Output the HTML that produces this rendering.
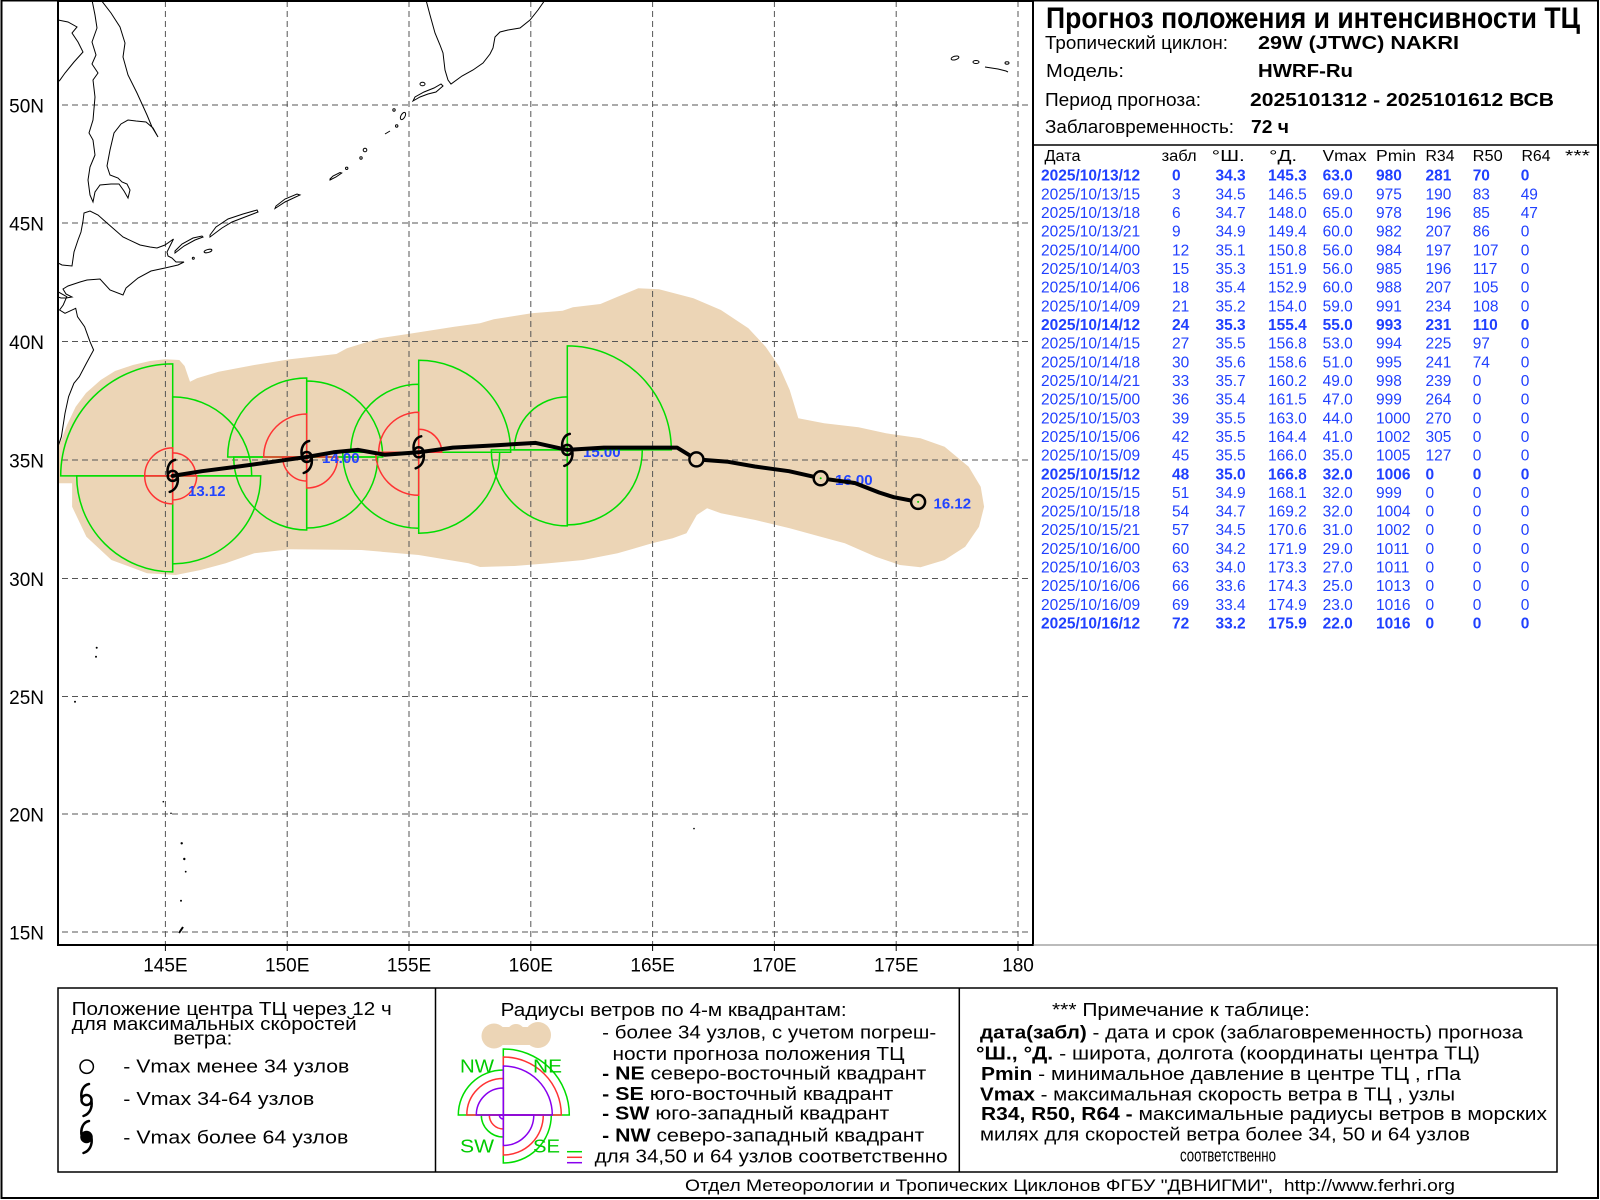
<!DOCTYPE html>
<html><head><meta charset="utf-8"><style>
html,body{margin:0;padding:0;background:#fff}
svg{display:block}
text{font-family:"Liberation Sans",Arial,sans-serif}
</style></head><body>
<svg width="1600" height="1200" viewBox="0 0 1600 1200" xmlns="http://www.w3.org/2000/svg">
<defs>
<clipPath id="mc"><rect x="58" y="1" width="975" height="944"/></clipPath>
<g id="ts"><path d="M2.5,-16 C-3,-15 -6,-9 -5,-2 M5,1 C6,8 3,14 -3,16" fill="none" stroke="#000" stroke-width="2.5" stroke-linecap="round"/><circle r="5" fill="none" stroke="#000" stroke-width="2.5"/></g>
<g id="tsf"><path d="M2.5,-16 C-3,-15 -6,-9 -5,-2 M5,1 C6,8 3,14 -3,16" fill="none" stroke="#000" stroke-width="2.5" stroke-linecap="round"/><circle r="5.5" fill="#000" stroke="#000" stroke-width="1.5"/></g>
</defs>
<rect width="1600" height="1200" fill="#fff"/>

<!-- MAP -->
<g clip-path="url(#mc)">
<path fill="#ecd5b6" d="M50,470 L57,445 L61.4,440 L67,425 L75.7,406.7 L86,393 L100.7,380 L115,371 L132.9,365 L150,361 L165,359.3 L179.3,360 L184.6,366 L188,376 L190,381.7 L197,378.3 L218.6,371.7 L254.3,365 L290,359.3 L336.4,354 L347,348.3 L379.3,338.3 L407.9,334 L454.3,326.7 L480,323.3 L493.8,319.3 L531.6,313.3 L562.6,310.7 L572.9,307.3 L600.4,304 L617.6,296.7 L638.3,288.3 L659,289.3 L693.4,298.3 L720.9,310 L748.4,328.3 L765.6,346.7 L779.4,366.7 L789.7,390 L798.3,418.3 L824.1,423.3 L858.5,427.3 L886,433.3 L920.5,438.3 L944.6,446.7 L968.7,466.7 L980.7,486.7 L984.1,506.7 L979,526.7 L965.2,546.7 L944.6,560 L920.5,567.3 L899.8,565 L875.7,556.7 L844.8,543.3 L820.7,536.7 L789.7,528.3 L755.3,520 L720.9,513.3 L707.1,508.3 L696.8,515 L686.5,533.3 L672.7,538.3 L652.1,543.3 L617.6,553.3 L583.2,560 L548.8,563.3 L514.4,566 L480,567 L468.6,563.3 L418.6,555 L361.4,550 L290,549.3 L254.3,553.3 L225.7,563.3 L200.7,570 L175.7,575 L147.1,573.3 L111.4,560 L86.4,536.7 L72.1,506.7 L72.1,483.3 L57.9,483.3 L50,483 Z"/>

<!-- grid -->
<g stroke="#555" stroke-width="1" stroke-dasharray="6,4" fill="none">
<line x1="165.4" y1="1" x2="165.4" y2="945"/>
<line x1="287.2" y1="1" x2="287.2" y2="945"/>
<line x1="409" y1="1" x2="409" y2="945"/>
<line x1="530.8" y1="1" x2="530.8" y2="945"/>
<line x1="652.6" y1="1" x2="652.6" y2="945"/>
<line x1="774.4" y1="1" x2="774.4" y2="945"/>
<line x1="896.2" y1="1" x2="896.2" y2="945"/>
<line x1="1018" y1="1" x2="1018" y2="945"/>
<line x1="52" y1="105" x2="1033" y2="105"/>
<line x1="52" y1="223" x2="1033" y2="223"/>
<line x1="52" y1="341.5" x2="1033" y2="341.5"/>
<line x1="52" y1="460" x2="1033" y2="460"/>
<line x1="52" y1="578.5" x2="1033" y2="578.5"/>
<line x1="52" y1="696.5" x2="1033" y2="696.5"/>
<line x1="52" y1="814" x2="1033" y2="814"/>
<line x1="52" y1="932" x2="1033" y2="932"/>
</g>

<!-- coastlines -->
<g fill="none" stroke="#000" stroke-width="1">
<path d="M58,263 L62,265 L72,266 L74,252 L78,240 L81,232 L83,221 L84,213 L90,211 L98,215 L107,223 L123,237 L140,245 L150,247 L157,248 L165,245 L173.5,239 L170,246 L167,252 L168,256 L172,258 L176,262 L184,262 L178,265 L165,268 L151,271 L138,278 L126,288 L123,295 L110,290 L100,279 L87,280 L80,282 L68,286 L63,289 L66,294 L72,297 L66,298 L61,298 L58,297"/>
<path d="M101,0 L111,13 L120,27 L125,43 L123,57 L128,75 L137,93 L147,115 L152,127 L158,137 L153,128 L146,122 L136,121 L128,120 L121,124 L114,133 L110,150 L107,166 L110,175 L118,178 L122,182 L127,184 L130,190 L128,198 L124,191 L119,184 L111,184 L100,185 L95,192 L93,202 L90,195 L88,180 L90,167 L95,155 L93,140 L89,133 L93,120 L95,97 L93,80 L98,73 L92,64 L96,55 L92,42 L97,28 L95,15 L92,0"/>
<path d="M58,20 L68,22 L77,27 L72,33 L78,42 L83,52 L74,62 L65,73 L60,80 L58,82"/>
<path d="M57.9,291.7 L66.8,296.7 L63.2,305 L59.6,310 L65,313.3 L75.7,308.3 L77.5,316.7 L84.6,326.7 L90,341.7 L93.6,350 L86.4,363.3 L79.3,376.7 L73.9,383.3 L68.6,396.7 L65,413.3 L61.4,436.7 L57.9,446.7"/>
<path d="M426,0 L430,15 L435,33 L440,45 L443,53 L445,70 L448,80 L451,84 L462,76 L473,70 L483,63 L490,54 L493,48 L495,37 L500,32 L508,30 L520,28 L530,20 L538,10 L545,0"/>
<path d="M413,101 L420,97 L428,94 L436,92 L443,86 L441,84 L434,88 L424,92 L415,97 Z"/>
<ellipse cx="422.5" cy="84" rx="2.5" ry="1.8"/>
<ellipse cx="403" cy="116" rx="2" ry="4" transform="rotate(30 403 116)"/>
<circle cx="394" cy="110" r="1.2"/>
<circle cx="396.7" cy="126" r="1.2"/>
<path d="M385,134 L390,131"/>
<circle cx="365" cy="150" r="1.8"/>
<circle cx="361" cy="158" r="1.2"/>
<circle cx="346.7" cy="168.3" r="1.2"/>
<path d="M330,180 L336,177 L341.7,173 L340,172.5 L333,176 L330,179 Z"/>
<path d="M275,208.5 L285,202 L300,195 L297,194 L285,199 L276,206 Z"/>
<path d="M210,237 L222,228 L232,222 L245,217 L258,212 L257,210 L243,214 L228,219 L216,227 L210,235 Z"/>
<path d="M175,253 L184,246 L195,240 L203,237 L202,236 L193,238 L182,244 L175,251 Z"/>
<ellipse cx="208" cy="251" rx="4" ry="1.5" transform="rotate(-15 208 251)"/>
<circle cx="193.3" cy="258.3" r="1"/>
<ellipse cx="955" cy="58" rx="4" ry="1.8" transform="rotate(-15 955 58)"/>
<ellipse cx="976" cy="62" rx="3" ry="1.5"/>
<path d="M985,67 L998,69 L1006,71 L1008,72"/>
<ellipse cx="1007" cy="63" rx="2" ry="1.2"/>
</g>
<g fill="#000">
<circle cx="96.7" cy="647.7" r="1"/><circle cx="96" cy="656.7" r="1"/><circle cx="75" cy="701.7" r="1"/>
<circle cx="163.3" cy="801.7" r="0.8"/><circle cx="171" cy="813.3" r="0.8"/>
<circle cx="181.7" cy="843.3" r="1.2"/><circle cx="184.3" cy="859" r="1.2"/><circle cx="185.7" cy="871.7" r="0.9"/><circle cx="181" cy="900.7" r="1"/>
<circle cx="694" cy="828.6" r="0.8"/>
</g>
<path d="M179,933 L183,927" stroke="#000" stroke-width="2" fill="none"/>

<!-- wind radii: green R34 -->
<g fill="none" stroke="#00dd00" stroke-width="1.5">
<path d="M172.7,475.9 L172.7,396.9 A79,79 0 0 1 251.7,475.9 Z"/>
<path d="M172.7,475.9 L260.7,475.9 A88,88 0 0 1 172.7,563.9 Z"/>
<path d="M172.7,475.9 L172.7,571.9 A96,96 0 0 1 76.7,475.9 Z"/>
<path d="M172.7,475.9 L60.7,475.9 A112,112 0 0 1 172.7,363.9 Z"/>
<path d="M306.7,457 L306.7,381 A76,76 0 0 1 382.7,457 Z"/>
<path d="M306.7,457 L377.7,457 A71,71 0 0 1 306.7,528 Z"/>
<path d="M306.7,457 L306.7,530 A73,73 0 0 1 233.7,457 Z"/>
<path d="M306.7,457 L227.7,457 A79,79 0 0 1 306.7,378 Z"/>
<path d="M418.7,452.3 L418.7,360.3 A92,92 0 0 1 510.7,452.3 Z"/>
<path d="M418.7,452.3 L499.7,452.3 A81,81 0 0 1 418.7,533.3 Z"/>
<path d="M418.7,452.3 L418.7,528.3 A76,76 0 0 1 342.7,452.3 Z"/>
<path d="M418.7,452.3 L350.7,452.3 A68,68 0 0 1 418.7,384.3 Z"/>
<path d="M567.3,449.9 L567.3,345.9 A104,104 0 0 1 671.3,449.9 Z"/>
<path d="M567.3,449.9 L642.3,449.9 A75,75 0 0 1 567.3,524.9 Z"/>
<path d="M567.3,449.9 L567.3,525.9 A76,76 0 0 1 491.3,449.9 Z"/>
<path d="M567.3,449.9 L514.3,449.9 A53,53 0 0 1 567.3,396.9 Z"/>
</g>
<!-- red R50 -->
<g fill="none" stroke="#ff3333" stroke-width="1.5">
<path d="M172.7,475.9 L172.7,452.9 A23,23 0 0 1 195.7,475.9 Z"/>
<path d="M172.7,475.9 L196.7,475.9 A24,24 0 0 1 172.7,499.9 Z"/>
<path d="M172.7,475.9 L172.7,503.9 A28,28 0 0 1 144.7,475.9 Z"/>
<path d="M172.7,475.9 L144.7,475.9 A28,28 0 0 1 172.7,447.9 Z"/>
<path d="M306.7,457 L337.7,457 A31,31 0 0 1 306.7,488 Z"/>
<path d="M306.7,457 L306.7,481 A24,24 0 0 1 282.7,457 Z"/>
<path d="M306.7,457 L263.7,457 A43,43 0 0 1 306.7,414 Z"/>
<path d="M418.7,452.3 L418.7,429.3 A23,23 0 0 1 441.7,452.3 Z"/>
<path d="M418.7,452.3 L418.7,495.3 A43,43 0 0 1 375.7,452.3 Z"/>
<path d="M418.7,452.3 L378.7,452.3 A40,40 0 0 1 418.7,412.3 Z"/>
</g>

<!-- labels -->
<g font-size="15" font-weight="bold" fill="#2244ff">
<text x="188" y="496">13.12</text>
<text x="322" y="463">14.00</text>
<text x="583" y="457">15.00</text>
<text x="835" y="485">16.00</text>
<text x="933.5" y="508.5">16.12</text>
</g>

<!-- track -->
<polyline fill="none" stroke="#000" stroke-width="4" stroke-linejoin="round" stroke-linecap="round" points="172.7,475.9 201.9,471.2 238.5,466.5 272.6,461.8 306.7,457 333.5,452.3 357.8,449.9 384.6,454.7 418.7,452.3 452.9,447.6 496.7,445.2 535.7,442.9 567.3,449.9 603.9,447.6 638,447.6 677,447.6 696.4,459.4 728.1,461.8 754.9,466.5 789,471.2 820.7,478.3 854.8,483 879.1,492.5 893.8,497.2 918.1,501.9"/>
<use href="#ts" x="172.7" y="475.9"/>
<use href="#ts" x="306.7" y="457"/>
<use href="#ts" x="418.7" y="452.3"/>
<use href="#ts" x="567.3" y="449.9"/>
<g fill="#ecd5b6" stroke="#000" stroke-width="2.5">
<circle cx="696.4" cy="459.4" r="7"/>
<circle cx="820.7" cy="478.3" r="7"/>
<circle cx="918.1" cy="501.9" r="7"/>
</g>
<circle cx="820.7" cy="478.3" r="1" fill="#00cc00"/>
<circle cx="918.1" cy="501.9" r="1" fill="#00cc00"/>
</g>

<!-- map frame & ticks -->
<rect x="58" y="1" width="975" height="944" fill="none" stroke="#000" stroke-width="2"/>
<g stroke="#000" stroke-width="1">
<line x1="165.4" y1="945" x2="165.4" y2="951"/><line x1="287.2" y1="945" x2="287.2" y2="951"/><line x1="409" y1="945" x2="409" y2="951"/><line x1="530.8" y1="945" x2="530.8" y2="951"/><line x1="652.6" y1="945" x2="652.6" y2="951"/><line x1="774.4" y1="945" x2="774.4" y2="951"/><line x1="896.2" y1="945" x2="896.2" y2="951"/><line x1="1018" y1="945" x2="1018" y2="951"/>
</g>
<g font-size="19" fill="#000" text-anchor="end">
<text x="44" y="112.5">50N</text><text x="44" y="230.5">45N</text><text x="44" y="349">40N</text><text x="44" y="467.5">35N</text><text x="44" y="586">30N</text><text x="44" y="704">25N</text><text x="44" y="821.5">20N</text><text x="44" y="939.5">15N</text>
</g>
<g font-size="19" fill="#000" text-anchor="middle">
<text x="165.4" y="971.5">145E</text><text x="287.2" y="971.5">150E</text><text x="409" y="971.5">155E</text><text x="530.8" y="971.5">160E</text><text x="652.6" y="971.5">165E</text><text x="774.4" y="971.5">170E</text><text x="896.2" y="971.5">175E</text><text x="1018" y="971.5">180</text>
</g>

<!-- right panel -->
<line x1="1033" y1="145" x2="1598" y2="145" stroke="#000" stroke-width="1.5"/>
<line x1="1033" y1="945" x2="1598" y2="945" stroke="#777" stroke-width="1"/>
<text x="1046" y="28" font-size="30" font-weight="bold" textLength="534" lengthAdjust="spacingAndGlyphs">Прогноз положения и интенсивности ТЦ</text>
<g font-size="18" fill="#000" xml:space="preserve" style="white-space:pre">
<text x="1045" y="49" textLength="183" lengthAdjust="spacingAndGlyphs">Тропический циклон:</text>
<text x="1258" y="49" font-weight="bold" textLength="201" lengthAdjust="spacingAndGlyphs">29W (JTWC)  NAKRI</text>
<text x="1046" y="77" textLength="78" lengthAdjust="spacingAndGlyphs">Модель:</text>
<text x="1258" y="77" font-weight="bold" textLength="95" lengthAdjust="spacingAndGlyphs">HWRF-Ru</text>
<text x="1045" y="106" textLength="156" lengthAdjust="spacingAndGlyphs">Период прогноза:</text>
<text x="1250" y="106" font-weight="bold" textLength="304" lengthAdjust="spacingAndGlyphs">2025101312 - 2025101612 ВСВ</text>
<text x="1045" y="133" textLength="189" lengthAdjust="spacingAndGlyphs">Заблаговременность:</text>
<text x="1251" y="133" font-weight="bold" textLength="38" lengthAdjust="spacingAndGlyphs">72 ч</text>
</g>
<g font-size="15.5" fill="#000">
<text x="1044.5" y="161" textLength="36" lengthAdjust="spacingAndGlyphs">Дата</text>
<text x="1161.6" y="161" textLength="35" lengthAdjust="spacingAndGlyphs">забл</text>
<text x="1211.8" y="161" textLength="33" lengthAdjust="spacingAndGlyphs">°Ш.</text>
<text x="1269.2" y="161" textLength="28" lengthAdjust="spacingAndGlyphs">°Д.</text>
<text x="1322.6" y="161" textLength="44" lengthAdjust="spacingAndGlyphs">Vmax</text>
<text x="1376" y="161" textLength="40" lengthAdjust="spacingAndGlyphs">Pmin</text>
<text x="1425.5" y="161" textLength="29" lengthAdjust="spacingAndGlyphs">R34</text>
<text x="1472.7" y="161" textLength="30" lengthAdjust="spacingAndGlyphs">R50</text>
<text x="1521.5" y="161" textLength="29" lengthAdjust="spacingAndGlyphs">R64</text>
<text x="1565" y="161" textLength="25" lengthAdjust="spacingAndGlyphs">***</text>
</g>
<g font-size="15.5" fill="#2040ff">
<text y="180.7" font-weight="bold"><tspan x="1041">2025/10/13/12</tspan><tspan x="1172">0</tspan><tspan x="1215.5">34.3</tspan><tspan x="1268">145.3</tspan><tspan x="1322.6">63.0</tspan><tspan x="1376">980</tspan><tspan x="1425.5">281</tspan><tspan x="1472.7">70</tspan><tspan x="1520.7">0</tspan></text>
<text y="199.4"><tspan x="1041">2025/10/13/15</tspan><tspan x="1172">3</tspan><tspan x="1215.5">34.5</tspan><tspan x="1268">146.5</tspan><tspan x="1322.6">69.0</tspan><tspan x="1376">975</tspan><tspan x="1425.5">190</tspan><tspan x="1472.7">83</tspan><tspan x="1520.7">49</tspan></text>
<text y="218"><tspan x="1041">2025/10/13/18</tspan><tspan x="1172">6</tspan><tspan x="1215.5">34.7</tspan><tspan x="1268">148.0</tspan><tspan x="1322.6">65.0</tspan><tspan x="1376">978</tspan><tspan x="1425.5">196</tspan><tspan x="1472.7">85</tspan><tspan x="1520.7">47</tspan></text>
<text y="236.7"><tspan x="1041">2025/10/13/21</tspan><tspan x="1172">9</tspan><tspan x="1215.5">34.9</tspan><tspan x="1268">149.4</tspan><tspan x="1322.6">60.0</tspan><tspan x="1376">982</tspan><tspan x="1425.5">207</tspan><tspan x="1472.7">86</tspan><tspan x="1520.7">0</tspan></text>
<text y="255.3"><tspan x="1041">2025/10/14/00</tspan><tspan x="1172">12</tspan><tspan x="1215.5">35.1</tspan><tspan x="1268">150.8</tspan><tspan x="1322.6">56.0</tspan><tspan x="1376">984</tspan><tspan x="1425.5">197</tspan><tspan x="1472.7">107</tspan><tspan x="1520.7">0</tspan></text>
<text y="274"><tspan x="1041">2025/10/14/03</tspan><tspan x="1172">15</tspan><tspan x="1215.5">35.3</tspan><tspan x="1268">151.9</tspan><tspan x="1322.6">56.0</tspan><tspan x="1376">985</tspan><tspan x="1425.5">196</tspan><tspan x="1472.7">117</tspan><tspan x="1520.7">0</tspan></text>
<text y="292.7"><tspan x="1041">2025/10/14/06</tspan><tspan x="1172">18</tspan><tspan x="1215.5">35.4</tspan><tspan x="1268">152.9</tspan><tspan x="1322.6">60.0</tspan><tspan x="1376">988</tspan><tspan x="1425.5">207</tspan><tspan x="1472.7">105</tspan><tspan x="1520.7">0</tspan></text>
<text y="311.3"><tspan x="1041">2025/10/14/09</tspan><tspan x="1172">21</tspan><tspan x="1215.5">35.2</tspan><tspan x="1268">154.0</tspan><tspan x="1322.6">59.0</tspan><tspan x="1376">991</tspan><tspan x="1425.5">234</tspan><tspan x="1472.7">108</tspan><tspan x="1520.7">0</tspan></text>
<text y="330" font-weight="bold"><tspan x="1041">2025/10/14/12</tspan><tspan x="1172">24</tspan><tspan x="1215.5">35.3</tspan><tspan x="1268">155.4</tspan><tspan x="1322.6">55.0</tspan><tspan x="1376">993</tspan><tspan x="1425.5">231</tspan><tspan x="1472.7">110</tspan><tspan x="1520.7">0</tspan></text>
<text y="348.6"><tspan x="1041">2025/10/14/15</tspan><tspan x="1172">27</tspan><tspan x="1215.5">35.5</tspan><tspan x="1268">156.8</tspan><tspan x="1322.6">53.0</tspan><tspan x="1376">994</tspan><tspan x="1425.5">225</tspan><tspan x="1472.7">97</tspan><tspan x="1520.7">0</tspan></text>
<text y="367.3"><tspan x="1041">2025/10/14/18</tspan><tspan x="1172">30</tspan><tspan x="1215.5">35.6</tspan><tspan x="1268">158.6</tspan><tspan x="1322.6">51.0</tspan><tspan x="1376">995</tspan><tspan x="1425.5">241</tspan><tspan x="1472.7">74</tspan><tspan x="1520.7">0</tspan></text>
<text y="386"><tspan x="1041">2025/10/14/21</tspan><tspan x="1172">33</tspan><tspan x="1215.5">35.7</tspan><tspan x="1268">160.2</tspan><tspan x="1322.6">49.0</tspan><tspan x="1376">998</tspan><tspan x="1425.5">239</tspan><tspan x="1472.7">0</tspan><tspan x="1520.7">0</tspan></text>
<text y="404.6"><tspan x="1041">2025/10/15/00</tspan><tspan x="1172">36</tspan><tspan x="1215.5">35.4</tspan><tspan x="1268">161.5</tspan><tspan x="1322.6">47.0</tspan><tspan x="1376">999</tspan><tspan x="1425.5">264</tspan><tspan x="1472.7">0</tspan><tspan x="1520.7">0</tspan></text>
<text y="423.3"><tspan x="1041">2025/10/15/03</tspan><tspan x="1172">39</tspan><tspan x="1215.5">35.5</tspan><tspan x="1268">163.0</tspan><tspan x="1322.6">44.0</tspan><tspan x="1376">1000</tspan><tspan x="1425.5">270</tspan><tspan x="1472.7">0</tspan><tspan x="1520.7">0</tspan></text>
<text y="441.9"><tspan x="1041">2025/10/15/06</tspan><tspan x="1172">42</tspan><tspan x="1215.5">35.5</tspan><tspan x="1268">164.4</tspan><tspan x="1322.6">41.0</tspan><tspan x="1376">1002</tspan><tspan x="1425.5">305</tspan><tspan x="1472.7">0</tspan><tspan x="1520.7">0</tspan></text>
<text y="460.6"><tspan x="1041">2025/10/15/09</tspan><tspan x="1172">45</tspan><tspan x="1215.5">35.5</tspan><tspan x="1268">166.0</tspan><tspan x="1322.6">35.0</tspan><tspan x="1376">1005</tspan><tspan x="1425.5">127</tspan><tspan x="1472.7">0</tspan><tspan x="1520.7">0</tspan></text>
<text y="479.3" font-weight="bold"><tspan x="1041">2025/10/15/12</tspan><tspan x="1172">48</tspan><tspan x="1215.5">35.0</tspan><tspan x="1268">166.8</tspan><tspan x="1322.6">32.0</tspan><tspan x="1376">1006</tspan><tspan x="1425.5">0</tspan><tspan x="1472.7">0</tspan><tspan x="1520.7">0</tspan></text>
<text y="497.9"><tspan x="1041">2025/10/15/15</tspan><tspan x="1172">51</tspan><tspan x="1215.5">34.9</tspan><tspan x="1268">168.1</tspan><tspan x="1322.6">32.0</tspan><tspan x="1376">999</tspan><tspan x="1425.5">0</tspan><tspan x="1472.7">0</tspan><tspan x="1520.7">0</tspan></text>
<text y="516.6"><tspan x="1041">2025/10/15/18</tspan><tspan x="1172">54</tspan><tspan x="1215.5">34.7</tspan><tspan x="1268">169.2</tspan><tspan x="1322.6">32.0</tspan><tspan x="1376">1004</tspan><tspan x="1425.5">0</tspan><tspan x="1472.7">0</tspan><tspan x="1520.7">0</tspan></text>
<text y="535.2"><tspan x="1041">2025/10/15/21</tspan><tspan x="1172">57</tspan><tspan x="1215.5">34.5</tspan><tspan x="1268">170.6</tspan><tspan x="1322.6">31.0</tspan><tspan x="1376">1002</tspan><tspan x="1425.5">0</tspan><tspan x="1472.7">0</tspan><tspan x="1520.7">0</tspan></text>
<text y="553.9"><tspan x="1041">2025/10/16/00</tspan><tspan x="1172">60</tspan><tspan x="1215.5">34.2</tspan><tspan x="1268">171.9</tspan><tspan x="1322.6">29.0</tspan><tspan x="1376">1011</tspan><tspan x="1425.5">0</tspan><tspan x="1472.7">0</tspan><tspan x="1520.7">0</tspan></text>
<text y="572.6"><tspan x="1041">2025/10/16/03</tspan><tspan x="1172">63</tspan><tspan x="1215.5">34.0</tspan><tspan x="1268">173.3</tspan><tspan x="1322.6">27.0</tspan><tspan x="1376">1011</tspan><tspan x="1425.5">0</tspan><tspan x="1472.7">0</tspan><tspan x="1520.7">0</tspan></text>
<text y="591.2"><tspan x="1041">2025/10/16/06</tspan><tspan x="1172">66</tspan><tspan x="1215.5">33.6</tspan><tspan x="1268">174.3</tspan><tspan x="1322.6">25.0</tspan><tspan x="1376">1013</tspan><tspan x="1425.5">0</tspan><tspan x="1472.7">0</tspan><tspan x="1520.7">0</tspan></text>
<text y="609.9"><tspan x="1041">2025/10/16/09</tspan><tspan x="1172">69</tspan><tspan x="1215.5">33.4</tspan><tspan x="1268">174.9</tspan><tspan x="1322.6">23.0</tspan><tspan x="1376">1016</tspan><tspan x="1425.5">0</tspan><tspan x="1472.7">0</tspan><tspan x="1520.7">0</tspan></text>
<text y="628.5" font-weight="bold"><tspan x="1041">2025/10/16/12</tspan><tspan x="1172">72</tspan><tspan x="1215.5">33.2</tspan><tspan x="1268">175.9</tspan><tspan x="1322.6">22.0</tspan><tspan x="1376">1016</tspan><tspan x="1425.5">0</tspan><tspan x="1472.7">0</tspan><tspan x="1520.7">0</tspan></text>
</g>

<!-- outer frame -->
<rect x="1.5" y="0.5" width="1596.5" height="1197.5" fill="none" stroke="#000" stroke-width="2"/>

<!-- legend boxes -->
<g fill="none" stroke="#000" stroke-width="1.5">
<rect x="58" y="988" width="1499" height="184"/>
<line x1="435.5" y1="988" x2="435.5" y2="1172"/>
<line x1="959.3" y1="988" x2="959.3" y2="1172"/>
</g>
<g font-size="18" fill="#000" xml:space="preserve" style="white-space:pre">
<text x="71.7" y="1015" textLength="320" lengthAdjust="spacingAndGlyphs">Положение центра ТЦ через 12 ч</text>
<text x="71.7" y="1030" textLength="285" lengthAdjust="spacingAndGlyphs">для максимальных скоростей</text>
<text x="173.3" y="1044.3" textLength="59" lengthAdjust="spacingAndGlyphs">ветра:</text>
<text x="123.3" y="1072.7" textLength="226" lengthAdjust="spacingAndGlyphs">- Vmax  менее 34 узлов</text>
<text x="123.3" y="1105" textLength="191" lengthAdjust="spacingAndGlyphs">- Vmax  34-64 узлов</text>
<text x="123.3" y="1143.3" textLength="225" lengthAdjust="spacingAndGlyphs">- Vmax  более 64 узлов</text>

<text x="500.6" y="1016" textLength="346" lengthAdjust="spacingAndGlyphs">Радиусы ветров по 4-м квадрантам:</text>
<text x="602.2" y="1038.3" textLength="334" lengthAdjust="spacingAndGlyphs">- более 34 узлов, с учетом погреш-</text>
<text x="612.5" y="1060" textLength="292" lengthAdjust="spacingAndGlyphs">ности прогноза положения ТЦ</text>
<text x="602.2" y="1079.3" textLength="324" lengthAdjust="spacingAndGlyphs"><tspan font-weight="bold">- NE</tspan>  северо-восточный квадрант</text>
<text x="602.2" y="1100" textLength="291" lengthAdjust="spacingAndGlyphs"><tspan font-weight="bold">- SE</tspan>  юго-восточный квадрант</text>
<text x="602.2" y="1119.3" textLength="287" lengthAdjust="spacingAndGlyphs"><tspan font-weight="bold">- SW</tspan>  юго-западный квадрант</text>
<text x="602.2" y="1141.7" textLength="322" lengthAdjust="spacingAndGlyphs"><tspan font-weight="bold">- NW</tspan>  северо-западный квадрант</text>
<text x="594.6" y="1162.7" textLength="353" lengthAdjust="spacingAndGlyphs">для 34,50 и 64 узлов соответственно</text>

<text x="1052" y="1016" textLength="258" lengthAdjust="spacingAndGlyphs">*** Примечание к таблице:</text>
<text x="980" y="1038.5" textLength="543" lengthAdjust="spacingAndGlyphs"><tspan font-weight="bold">дата(забл)</tspan>  - дата и срок (заблаговременность) прогноза</text>
<text x="976" y="1059.5" textLength="504" lengthAdjust="spacingAndGlyphs"><tspan font-weight="bold">°Ш., °Д.</tspan>  - широта, долгота   (координаты центра ТЦ)</text>
<text x="981" y="1080" textLength="480" lengthAdjust="spacingAndGlyphs"><tspan font-weight="bold">Pmin</tspan>   - минимальное давление в центре ТЦ , гПа</text>
<text x="980" y="1100.5" textLength="475" lengthAdjust="spacingAndGlyphs"><tspan font-weight="bold">Vmax</tspan>    -  максимальная скорость ветра в ТЦ , узлы</text>
<text x="981" y="1120" textLength="566" lengthAdjust="spacingAndGlyphs"><tspan font-weight="bold">R34, R50, R64 -</tspan>  максимальные радиусы ветров в морских</text>
<text x="980" y="1140.5" textLength="490" lengthAdjust="spacingAndGlyphs">милях для скоростей ветра более 34, 50 и 64 узлов</text>
<text x="1180" y="1161.5" textLength="96" lengthAdjust="spacingAndGlyphs">соответственно</text>
</g>
<text x="685" y="1191" font-size="17" textLength="770" lengthAdjust="spacingAndGlyphs" xml:space="preserve" style="white-space:pre">Отдел Метеорологии и Тропических Циклонов ФГБУ "ДВНИГМИ",  http://www.ferhri.org</text>

<!-- legend symbols left -->
<circle cx="86.7" cy="1066.7" r="6.7" fill="none" stroke="#000" stroke-width="1.5"/>
<use href="#ts" x="86.5" y="1100"/>
<use href="#tsf" x="86.5" y="1137"/>

<!-- legend middle diagram -->
<g fill="#ecd5b6">
<circle cx="494" cy="1036" r="12.5"/>
<circle cx="538" cy="1035" r="13"/>
<rect x="494" y="1027" width="44" height="18"/>
<circle cx="516" cy="1033" r="9"/>
</g>
<g fill="none" stroke-width="1.5">
<g stroke="#00dd00">
<path d="M503.3,1115 L503.3,1049 A66,66 0 0 1 569.3,1115 Z"/>
<path d="M503.3,1115 L551.3,1115 A48,48 0 0 1 503.3,1163 Z"/>
<path d="M503.3,1115 L503.3,1137 A22,22 0 0 1 481.3,1115 Z"/>
<path d="M503.3,1115 L458.3,1115 A45,45 0 0 1 503.3,1070 Z"/>
</g>
<g stroke="#ff3333">
<path d="M503.3,1115 L503.3,1057 A58,58 0 0 1 561.3,1115 Z"/>
<path d="M503.3,1115 L543.3,1115 A40,40 0 0 1 503.3,1155 Z"/>
<path d="M503.3,1115 L503.3,1129 A14,14 0 0 1 489.3,1115 Z"/>
<path d="M503.3,1115 L466.8,1115 A36.5,36.5 0 0 1 503.3,1078.5 Z"/>
</g>
<g stroke="#8800ee">
<path d="M503.3,1115 L503.3,1066 A49,49 0 0 1 552.3,1115 Z"/>
<path d="M503.3,1115 L533.8,1115 A30.5,30.5 0 0 1 503.3,1145.5 Z"/>
<path d="M503.3,1115 L503.3,1119 A4,4 0 0 1 499.3,1115 Z"/>
<path d="M503.3,1115 L476.3,1115 A27,27 0 0 1 503.3,1088 Z"/>
</g>
<line x1="567" y1="1151.7" x2="582" y2="1151.7" stroke="#00dd00"/>
<line x1="567" y1="1157.3" x2="582" y2="1157.3" stroke="#ff3333"/>
<line x1="567" y1="1162.7" x2="582" y2="1162.7" stroke="#8800ee"/>
</g>
<g font-size="18" fill="#00cc00">
<text x="460" y="1072.7" textLength="34" lengthAdjust="spacingAndGlyphs">NW</text>
<text x="533" y="1072.7" textLength="29" lengthAdjust="spacingAndGlyphs">NE</text>
<text x="460" y="1152.7" textLength="34" lengthAdjust="spacingAndGlyphs">SW</text>
<text x="533" y="1152.7" textLength="27" lengthAdjust="spacingAndGlyphs">SE</text>
</g>
</svg>
</body></html>
